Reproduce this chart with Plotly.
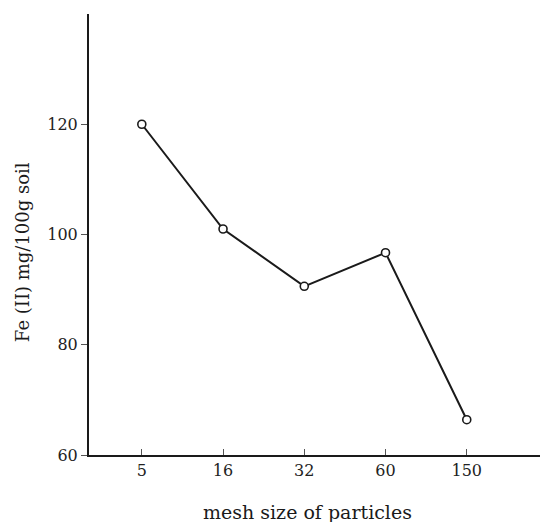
import plotly.graph_objects as go

mesh_sizes = ["5", "16", "32", "60", "150"]
fe_values = [120.0, 101.0, 90.6, 96.7, 66.4]
y_ticks = [60, 80, 100, 120]
x_title = "mesh size of particles"
y_title = "Fe (II) mg/100g soil"

fig = go.Figure()
fig.add_trace(go.Scatter(
    x=mesh_sizes, y=fe_values, mode="lines+markers",
    line=dict(color="#1a1a1a", width=2),
    marker=dict(symbol="circle", size=8, color="white",
                line=dict(color="#1a1a1a", width=1.6)),
    showlegend=False,
))

font_family = "DejaVu Serif, Liberation Serif, serif"
# page body has an 8px default margin, so the figure is sized/margined to compensate
fig.update_layout(
    width=540, height=514,
    margin=dict(l=81, r=0, t=6, b=67),
    paper_bgcolor="white", plot_bgcolor="white",
    font=dict(family=font_family, color="#1a1a1a"),
    xaxis=dict(
        type="category", range=[-0.65, 5.0],
        showline=True, linecolor="#1a1a1a", linewidth=2,
        ticks="inside", ticklen=6, tickwidth=1, tickcolor="#555",
        showgrid=False, zeroline=False,
        tickfont=dict(size=16, family=font_family, color="#222"),
    ),
    yaxis=dict(
        range=[60, 140], tickvals=y_ticks,
        showline=True, linecolor="#1a1a1a", linewidth=2,
        ticks="outside", ticklen=6, tickwidth=1, tickcolor="#555",
        showgrid=False, zeroline=False,
        tickfont=dict(size=16, family=font_family, color="#222"),
    ),
    annotations=[
        dict(text=x_title, xref="paper", yref="paper", x=0.475, y=-0.129,
             xanchor="center", yanchor="middle", showarrow=False,
             font=dict(size=19, family=font_family, color="#1a1a1a")),
        dict(text=y_title, xref="paper", yref="paper", x=-0.146, y=0.46,
             xanchor="center", yanchor="middle", showarrow=False, textangle=-90,
             font=dict(size=18, family=font_family, color="#1a1a1a")),
    ],
)

fig.write_html("out.html")
